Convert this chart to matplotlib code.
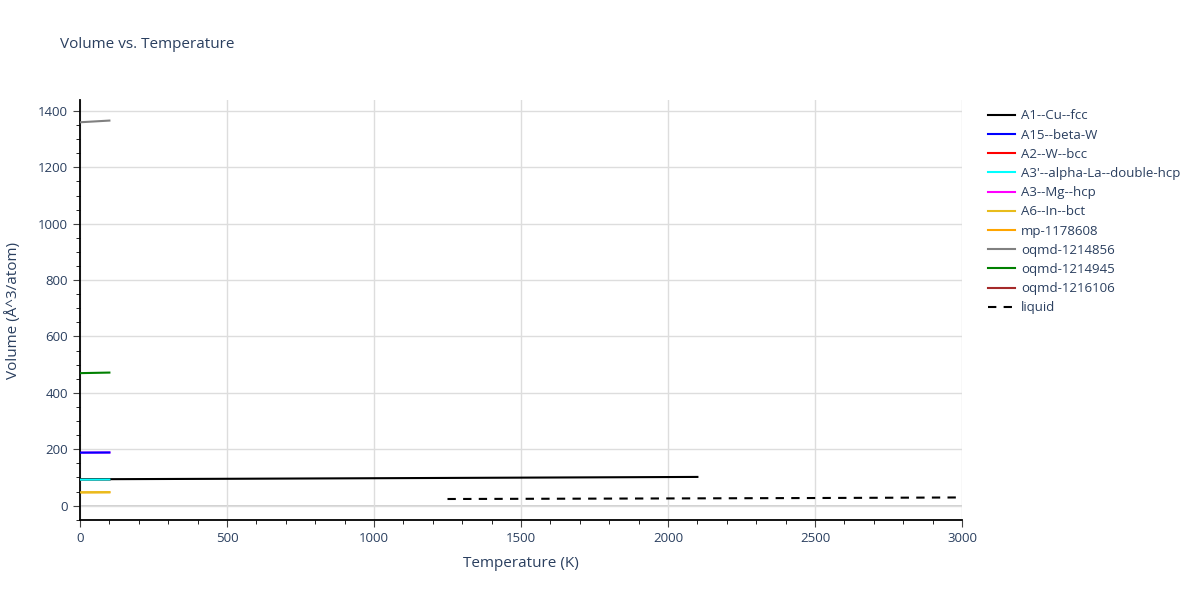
import numpy as np
import matplotlib.pyplot as plt
from matplotlib.ticker import MultipleLocator

plt.rcParams['font.family'] = ['Open Sans', 'DejaVu Sans']

# temperatures (K) and volumes (Å^3/atom)
T_short = [0, 100]
T_cu = [0, 500, 1000, 1500, 2100]
V_cu = [93.5, 95.2, 97.2, 99.3, 101.8]
V_a15 = [188, 188.5]
V_a2 = [92, 92.5]
V_a3p = [92, 92.5]
V_a3 = [188, 188.5]
V_a6 = [47, 47.5]
V_mp = [47, 47.5]
V_oq856 = [1360, 1366]
V_oq945 = [470, 472]
V_oq106 = [92, 92.5]
T_liq = [1250, 2000, 2500, 3000]
V_liq = [23.5, 25.5, 27, 29]

names = ['A1--Cu--fcc', 'A15--beta-W', 'A2--W--bcc', "A3'--alpha-La--double-hcp",
         'A3--Mg--hcp', 'A6--In--bct', 'mp-1178608', 'oqmd-1214856',
         'oqmd-1214945', 'oqmd-1216106', 'liquid']
colors = ['black', 'blue', 'red', 'cyan', 'magenta', '#e8bc1c', 'orange',
          'gray', 'green', 'brown', 'black']

txt = '#2a3f5f'

fig = plt.figure(figsize=(12, 6), dpi=100)
ax = fig.add_axes([80/1200, 1 - 520/600, 882/1200, 420/600])

lw = 1.5
# hidden ones drawn low so visible ones cover them, as in the picture
ax.plot(T_short, V_a2, color=colors[2], lw=lw, zorder=2, label=names[2])
ax.plot(T_short, V_a3, color=colors[4], lw=lw, zorder=2, label=names[4])
ax.plot(T_short, V_mp, color=colors[6], lw=lw, zorder=2, label=names[6])
ax.plot(T_short, V_oq106, color=colors[9], lw=lw, zorder=2, label=names[9])
ax.plot(T_cu, V_cu, color=colors[0], lw=lw, zorder=3, label=names[0])
ax.plot(T_short, V_a15, color=colors[1], lw=lw, zorder=4, label=names[1])
ax.plot(T_short, V_a3p, color=colors[3], lw=lw, zorder=4, label=names[3])
ax.plot(T_short, V_a6, color=colors[5], lw=lw, zorder=4, label=names[5])
ax.plot(T_short, V_oq856, color=colors[7], lw=lw, zorder=4, label=names[7])
ax.plot(T_short, V_oq945, color=colors[8], lw=lw, zorder=4, label=names[8])
ax.plot(T_liq, V_liq, color=colors[10], lw=lw, dashes=[4, 3.5], zorder=4, label=names[10])

ax.set_xlim(0, 3000)
ax.set_ylim(-51, 1439)

ax.xaxis.set_major_locator(MultipleLocator(500))
ax.xaxis.set_minor_locator(MultipleLocator(100))
ax.yaxis.set_major_locator(MultipleLocator(200))
ax.yaxis.set_minor_locator(MultipleLocator(50))

ax.grid(True, which='major', color='#dddddd', lw=1, zorder=0)
ax.axhline(0, color='#d0d0d0', lw=1.4, zorder=1)

for s in ['top', 'right']:
    ax.spines[s].set_visible(False)
for s in ['left', 'bottom']:
    ax.spines[s].set_color('black')
    ax.spines[s].set_linewidth(1.3)

ax.tick_params(which='major', direction='out', length=5, color='#444444',
               labelsize=9.5, labelcolor=txt)
ax.tick_params(which='minor', direction='out', length=3, color='black')

ax.set_xlabel('Temperature (K)', fontsize=11, color=txt, labelpad=8)
ax.set_ylabel('Volume (Å^3/atom)', fontsize=11, color=txt, labelpad=12)
fig.text(60/1200, 1 - 45/600, 'Volume vs. Temperature', fontsize=11,
         color=txt, va='center', ha='left')

handles, labels = ax.get_legend_handles_labels()
order = [labels.index(n) for n in names]
leg = ax.legend([handles[i] for i in order], [labels[i] for i in order],
                loc='upper left', bbox_to_anchor=(1.024, 0.99), frameon=False,
                fontsize=9.5, handlelength=2.0, labelspacing=0.47,
                borderaxespad=0.0, handletextpad=0.45)
for t in leg.get_texts():
    t.set_color(txt)

fig.savefig('out.png', dpi=100)
